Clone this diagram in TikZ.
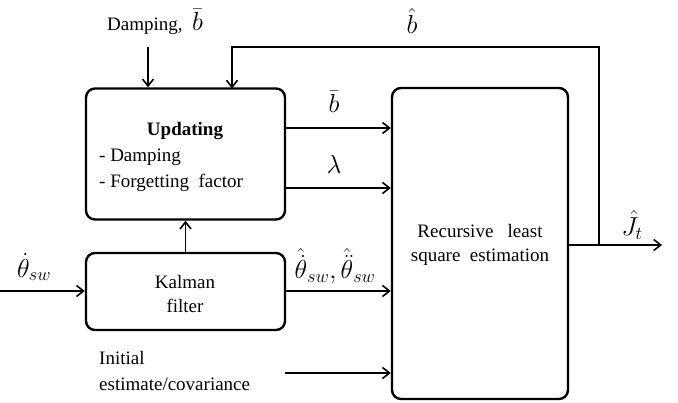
\documentclass[tikz,border=0pt]{standalone}
\usepackage{fontspec}
\usepackage{fix-cm}
\setmainfont{Liberation Serif}
\usetikzlibrary{arrows.meta,positioning}
\newcommand{\txtsize}{\fontsize{19}{23}\selectfont}
\newcommand{\mthsize}{\fontsize{26}{30}\selectfont}
\begin{document}
\begin{tikzpicture}[x=1pt,y=-1pt,
  blk/.style={draw,line width=2.4pt,rounded corners=9pt,inner sep=0pt},
  conn/.style={line width=1.6pt,-{Straight Barb[length=7pt,width=11pt,line width=1.6pt]}},
  lbl/.style={inner sep=0pt,font=\txtsize},
  mlbl/.style={inner sep=0pt,font=\mthsize}]
\useasboundingbox (0,0) rectangle (678,402);
% blocks
\node[blk,minimum width=199pt,minimum height=131pt] (upd) at (185.5,154) {};
\node[blk,minimum width=199pt,minimum height=77pt] (kal) at (185.5,291.5) {};
\node[blk,minimum width=176pt,minimum height=311pt] (rls) at (480,243.5) {};
% block texts
\node[lbl,font=\txtsize\bfseries] (updt) at (185,131) {Updating};
\node[lbl,anchor=west] (ud1) at (99,157) {- Damping};
\node[lbl,anchor=west] (ud2) at (99,183) {- Forgetting\ \ factor};
\node[lbl,align=center] (kalt) at (185,294) {Kalman\\[1pt]filter};
\node[lbl,align=center] (rlst) at (480,245) {Recursive\ \ \ least\\[1pt]square\ \ estimation};
% coordinates
\coordinate (din) at (148,47);
\coordinate (kin) at (0,291);
\coordinate (iin) at (285,373);
\coordinate (jout) at (662,245);
\coordinate (jn) at (599,245);
% labels
\node[lbl,anchor=base west] (damp) at (107,30) {Damping,\ \ {\mthsize$\bar b$}};
\node[mlbl] (bhat) at (412,21) {$\hat b$};
\node[mlbl] (bbar) at (334,102) {$\bar b$};
\node[mlbl] (lam) at (334,164) {$\lambda$};
\node[mlbl] (thin) at (34,267) {$\dot\theta_{sw}$};
\node[mlbl] (thout) at (335,266) {$\hat{\dot\theta}_{sw}, \hat{\ddot\theta}_{sw}$};
\node[mlbl] (jt) at (632,225) {$\hat J_t$};
\node[lbl,anchor=west,align=left] (init) at (99,371) {Initial\\[3pt]estimate/covariance};
% connectors
\draw[conn] (din) -- (din |- upd.north);
\draw[conn] (jn) -- (599,47) -- (232,47) -- (232,88.5);
\draw[conn] (kal.north) -- (upd.south);
\draw[conn] (upd.east |- 0,128) -- (rls.west |- 0,128);
\draw[conn] (upd.east |- 0,188) -- (rls.west |- 0,188);
\draw[conn] (kin) -- (kal.west |- kin);
\draw[conn] (kal.east |- 0,291) -- (rls.west |- 0,291);
\draw[conn] (iin) -- (rls.west |- iin);
\draw[conn] (rls.east |- jout) -- (jout);
\end{tikzpicture}
\end{document}
